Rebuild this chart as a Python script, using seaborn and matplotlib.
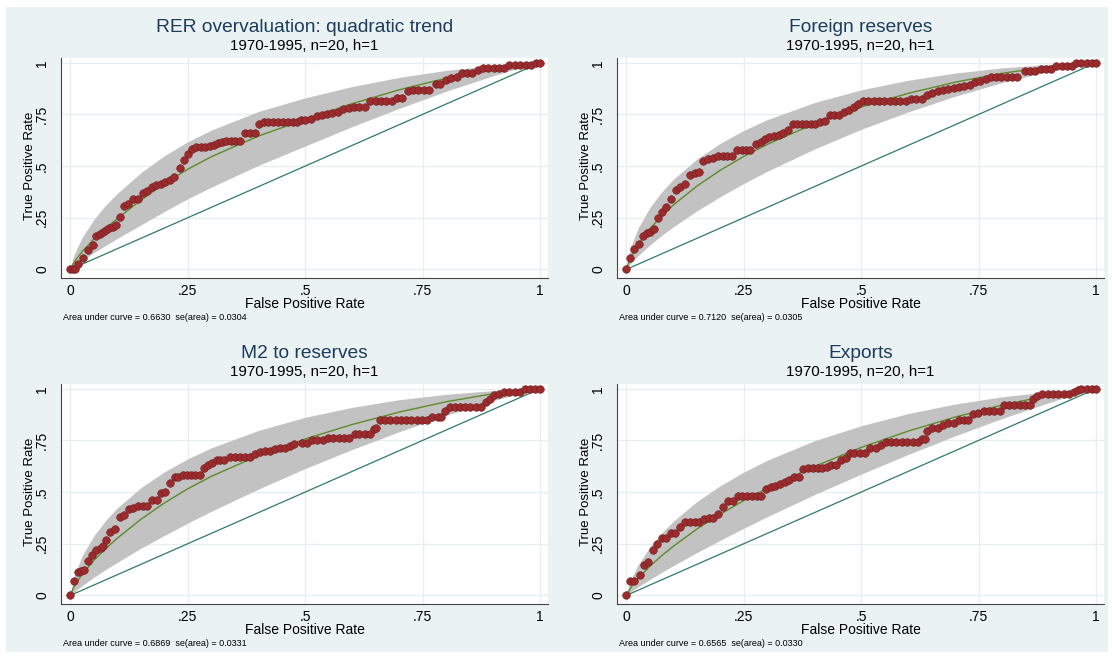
import numpy as np
import pandas as pd
import seaborn as sns
import matplotlib
matplotlib.use("Agg")
import matplotlib.pyplot as plt
from matplotlib.patches import Rectangle

# ---------------- data ----------------
titles = ["RER overvaluation: quadratic trend", "Foreign reserves", "M2 to reserves", "Exports"]
subtitle = "1970-1995, n=20, h=1"
notes = ["Area under curve = 0.6630  se(area) = 0.0304",
         "Area under curve = 0.7120  se(area) = 0.0305",
         "Area under curve = 0.6869  se(area) = 0.0331",
         "Area under curve = 0.6565  se(area) = 0.0330"]
tick_vals = [0, 0.25, 0.5, 0.75, 1]
tick_labels = ["0", ".25", ".5", ".75", "1"]
ref_line = [0, 1]

# empirical ROC points
fpr1 = [0, 0.005, 0.01, 0.017, 0.027, 0.037, 0.047, 0.054, 0.062, 0.069, 0.076, 0.083, 0.091, 0.096,
        0.105, 0.113, 0.122, 0.133, 0.144, 0.154, 0.164, 0.174, 0.183, 0.193, 0.202, 0.211, 0.22, 0.233,
        0.242, 0.25, 0.259, 0.268, 0.277, 0.286, 0.297, 0.306, 0.314, 0.323, 0.332, 0.341, 0.35, 0.36,
        0.371, 0.382, 0.392, 0.401, 0.412, 0.421, 0.431, 0.442, 0.453, 0.463, 0.474, 0.483, 0.49, 0.50,
        0.513, 0.524, 0.535, 0.547, 0.558, 0.57, 0.581, 0.593, 0.604, 0.615, 0.627, 0.638, 0.65, 0.661,
        0.673, 0.684, 0.695, 0.707, 0.718, 0.73, 0.741, 0.752, 0.764, 0.778, 0.788, 0.8, 0.811, 0.823,
        0.834, 0.845, 0.855, 0.867, 0.878, 0.89, 0.901, 0.912, 0.924, 0.935, 0.947, 0.958, 0.97, 0.981,
        0.992, 1.0]
tpr1 = [0, 0, 0, 0.026, 0.053, 0.094, 0.118, 0.161, 0.171, 0.179, 0.189, 0.198, 0.206, 0.216,
        0.252, 0.306, 0.315, 0.342, 0.342, 0.371, 0.381, 0.397, 0.408, 0.413, 0.421, 0.432, 0.448, 0.49,
        0.529, 0.556, 0.582, 0.594, 0.594, 0.594, 0.597, 0.602, 0.61, 0.616, 0.621, 0.621, 0.621, 0.623,
        0.661, 0.661, 0.661, 0.703, 0.715, 0.715, 0.715, 0.715, 0.715, 0.715, 0.715, 0.715, 0.723, 0.723,
        0.728, 0.74, 0.748, 0.752, 0.756, 0.76, 0.777, 0.781, 0.788, 0.788, 0.788, 0.817, 0.817, 0.817,
        0.817, 0.817, 0.83, 0.83, 0.862, 0.868, 0.868, 0.868, 0.868, 0.897, 0.897, 0.916, 0.924, 0.929,
        0.949, 0.949, 0.949, 0.965, 0.977, 0.977, 0.977, 0.977, 0.977, 0.99, 0.99, 0.99, 0.99, 0.99,
        1.0, 1.0]

fpr2 = [0, 0.007, 0.017, 0.027, 0.036, 0.044, 0.051, 0.059, 0.067, 0.076, 0.085, 0.095, 0.105, 0.115,
        0.125, 0.135, 0.146, 0.155, 0.164, 0.174, 0.185, 0.195, 0.205, 0.215, 0.225, 0.235, 0.245, 0.255,
        0.264, 0.275, 0.286, 0.295, 0.304, 0.314, 0.324, 0.334, 0.343, 0.355, 0.364, 0.373, 0.383, 0.392,
        0.402, 0.412, 0.422, 0.433, 0.443, 0.453, 0.463, 0.474, 0.485, 0.494, 0.504, 0.515, 0.527, 0.538,
        0.549, 0.561, 0.572, 0.583, 0.595, 0.606, 0.617, 0.629, 0.64, 0.651, 0.663, 0.674, 0.685, 0.697,
        0.708, 0.719, 0.731, 0.742, 0.753, 0.765, 0.776, 0.787, 0.798, 0.81, 0.821, 0.832, 0.848, 0.859,
        0.87, 0.882, 0.893, 0.904, 0.915, 0.927, 0.938, 0.949, 0.957, 0.968, 0.98, 0.991, 1.0]
tpr2 = [0, 0.053, 0.097, 0.123, 0.163, 0.174, 0.182, 0.194, 0.247, 0.276, 0.303, 0.34, 0.384, 0.397,
        0.411, 0.456, 0.465, 0.469, 0.524, 0.534, 0.537, 0.548, 0.548, 0.548, 0.548, 0.577, 0.577, 0.577,
        0.577, 0.605, 0.618, 0.629, 0.639, 0.645, 0.65, 0.661, 0.673, 0.703, 0.703, 0.703, 0.703, 0.703,
        0.703, 0.711, 0.716, 0.747, 0.747, 0.747, 0.763, 0.772, 0.788, 0.8, 0.813, 0.813, 0.813, 0.813,
        0.813, 0.813, 0.813, 0.813, 0.813, 0.825, 0.825, 0.825, 0.844, 0.852, 0.862, 0.868, 0.873, 0.878,
        0.884, 0.889, 0.894, 0.905, 0.913, 0.921, 0.929, 0.932, 0.932, 0.932, 0.932, 0.932, 0.958, 0.958,
        0.958, 0.969, 0.969, 0.969, 0.982, 0.982, 0.982, 0.982, 1.0, 1.0, 1.0, 1.0, 1.0]

fpr3 = [0, 0.007, 0.015, 0.022, 0.029, 0.037, 0.046, 0.055, 0.064, 0.069, 0.076, 0.085, 0.094, 0.105,
        0.114, 0.125, 0.134, 0.144, 0.154, 0.164, 0.174, 0.184, 0.193, 0.202, 0.213, 0.222, 0.23, 0.24,
        0.249, 0.257, 0.266, 0.275, 0.284, 0.293, 0.302, 0.311, 0.319, 0.328, 0.339, 0.35, 0.36, 0.371,
        0.382, 0.392, 0.403, 0.414, 0.424, 0.435, 0.446, 0.456, 0.467, 0.477,
        0.494, 0.503, 0.514, 0.526, 0.537, 0.548, 0.56, 0.571, 0.583, 0.594, 0.605, 0.615, 0.627, 0.638,
        0.646, 0.65, 0.659, 0.67, 0.681, 0.693, 0.704, 0.715, 0.726, 0.737, 0.749, 0.76, 0.771, 0.783,
        0.79, 0.798, 0.808, 0.819, 0.83, 0.84, 0.851, 0.863, 0.874, 0.884, 0.893, 0.903, 0.912, 0.924,
        0.935, 0.947, 0.958, 0.968, 0.979, 0.989, 1.0]
tpr3 = [0, 0.068, 0.114, 0.12, 0.125, 0.166, 0.195, 0.218, 0.231, 0.239, 0.266, 0.308, 0.32, 0.377,
        0.388, 0.417, 0.422, 0.433, 0.433, 0.433, 0.461, 0.461, 0.494, 0.498, 0.545, 0.575, 0.575, 0.584,
        0.584, 0.584, 0.584, 0.584, 0.617, 0.633, 0.641, 0.653, 0.656, 0.656, 0.669, 0.669, 0.669, 0.669,
        0.669, 0.682, 0.693, 0.698, 0.701, 0.709, 0.714, 0.714, 0.721, 0.734,
        0.739, 0.739, 0.75, 0.75, 0.75, 0.763, 0.763, 0.763, 0.763, 0.763, 0.779, 0.779, 0.779, 0.779,
        0.803, 0.811, 0.847, 0.847, 0.847, 0.847, 0.847, 0.847, 0.847, 0.847, 0.847, 0.847, 0.865, 0.865,
        0.865, 0.892, 0.913, 0.913, 0.913, 0.913, 0.913, 0.913, 0.913, 0.935, 0.952, 0.968, 0.973, 0.985,
        0.985, 0.985, 0.985, 1.0, 1.0, 1.0, 1.0]

fpr4 = [0, 0.007, 0.017, 0.028, 0.037, 0.046, 0.056, 0.066, 0.076, 0.085, 0.094, 0.103, 0.115, 0.125,
        0.135, 0.145, 0.155, 0.165, 0.175, 0.185, 0.195, 0.206, 0.216, 0.226, 0.237, 0.247, 0.257, 0.267,
        0.277, 0.287, 0.297, 0.307, 0.317, 0.327, 0.337, 0.347, 0.357, 0.367, 0.377, 0.387, 0.397, 0.407,
        0.417, 0.426, 0.436, 0.446, 0.456, 0.467, 0.477,
        0.485, 0.497, 0.508, 0.519, 0.531, 0.542, 0.553, 0.564, 0.575, 0.587, 0.598, 0.61, 0.621, 0.629,
        0.636, 0.64, 0.651, 0.663, 0.674, 0.685, 0.697, 0.708, 0.719, 0.728, 0.738, 0.749, 0.761, 0.772,
        0.783, 0.795, 0.804, 0.815, 0.826, 0.838, 0.849, 0.859, 0.866, 0.875, 0.885, 0.897, 0.908, 0.919,
        0.931, 0.942, 0.953, 0.961, 0.968, 0.98, 0.991, 1.0]
tpr4 = [0, 0.071, 0.068, 0.097, 0.149, 0.162, 0.219, 0.247, 0.276, 0.276, 0.304, 0.304, 0.331, 0.357,
        0.357, 0.357, 0.357, 0.369, 0.372, 0.372, 0.393, 0.429, 0.455, 0.455, 0.482, 0.482, 0.482, 0.482,
        0.482, 0.482, 0.513, 0.523, 0.531, 0.539, 0.547, 0.558, 0.575, 0.575, 0.612, 0.617, 0.617, 0.617,
        0.617, 0.62, 0.633, 0.633, 0.656, 0.666, 0.688,
        0.687, 0.687, 0.687, 0.711, 0.715, 0.727, 0.742, 0.742, 0.742, 0.742, 0.742, 0.742, 0.742, 0.755,
        0.755, 0.795, 0.811, 0.811, 0.824, 0.835, 0.835, 0.847, 0.847, 0.847, 0.876, 0.884, 0.892, 0.892,
        0.892, 0.892, 0.919, 0.919, 0.919, 0.919, 0.919, 0.919, 0.952, 0.965, 0.973, 0.973, 0.973, 0.973,
        0.973, 0.973, 0.985, 0.992, 1.0, 1.0, 1.0, 1.0]

# fitted binormal curves and confidence bands
curve_fpr = [0, 0.005, 0.01, 0.025, 0.05, 0.075, 0.1, 0.15, 0.2, 0.25, 0.3, 0.4, 0.5, 0.6, 0.7,
             0.8, 0.9, 0.95, 1]
fit1 = [0, 0.024, 0.042, 0.086, 0.147, 0.199, 0.246, 0.335, 0.415, 0.485, 0.545, 0.645, 0.726, 0.802,
        0.869, 0.925, 0.970, 0.988, 1]
lo1 = [0, 0.010, 0.019, 0.043, 0.081, 0.116, 0.150, 0.215, 0.280, 0.342, 0.398, 0.503, 0.597, 0.691,
       0.779, 0.862, 0.937, 0.971, 1]
hi1 = [0, 0.052, 0.084, 0.155, 0.242, 0.311, 0.368, 0.468, 0.550, 0.618, 0.674, 0.764, 0.830, 0.885,
       0.929, 0.963, 0.987, 0.995, 1]
fit2 = [0, 0.037, 0.062, 0.121, 0.197, 0.258, 0.312, 0.403, 0.480, 0.547, 0.605, 0.705, 0.786, 0.852,
        0.906, 0.949, 0.981, 0.993, 1]
lo2 = [0, 0.017, 0.031, 0.067, 0.118, 0.164, 0.206, 0.283, 0.352, 0.416, 0.475, 0.582, 0.678, 0.762,
       0.838, 0.904, 0.959, 0.982, 1]
hi2 = [0, 0.073, 0.114, 0.201, 0.300, 0.375, 0.436, 0.534, 0.610, 0.673, 0.725, 0.807, 0.869, 0.915,
       0.950, 0.975, 0.992, 0.997, 1]
fit3 = [0, 0.030, 0.051, 0.102, 0.170, 0.226, 0.277, 0.368, 0.447, 0.516, 0.576, 0.676, 0.757, 0.827,
        0.887, 0.937, 0.976, 0.990, 1]
lo3 = [0, 0.011, 0.021, 0.047, 0.088, 0.125, 0.160, 0.228, 0.290, 0.350, 0.407, 0.514, 0.614, 0.706,
       0.792, 0.871, 0.942, 0.973, 1]
hi3 = [0, 0.069, 0.108, 0.192, 0.289, 0.363, 0.424, 0.521, 0.598, 0.661, 0.714, 0.798, 0.862, 0.910,
       0.947, 0.973, 0.991, 0.997, 1]
fit4 = [0, 0.022, 0.040, 0.082, 0.141, 0.192, 0.238, 0.321, 0.393, 0.459, 0.518, 0.624, 0.716, 0.795,
        0.863, 0.921, 0.968, 0.987, 1]
lo4 = [0, 0.009, 0.018, 0.041, 0.077, 0.111, 0.144, 0.207, 0.267, 0.325, 0.381, 0.487, 0.587, 0.682,
       0.772, 0.856, 0.933, 0.969, 1]
hi4 = [0, 0.049, 0.080, 0.149, 0.234, 0.302, 0.359, 0.454, 0.531, 0.597, 0.654, 0.748, 0.821, 0.880,
       0.926, 0.961, 0.986, 0.995, 1]

panels = [
    (titles[0], notes[0], fpr1, tpr1, fit1, lo1, hi1),
    (titles[1], notes[1], fpr2, tpr2, fit2, lo2, hi2),
    (titles[2], notes[2], fpr3, tpr3, fit3, lo3, hi3),
    (titles[3], notes[3], fpr4, tpr4, fit4, lo4, hi4),
]

# ---------------- style ----------------
sns.set_theme(style="white")
plt.rcParams["font.family"] = ["Liberation Sans", "DejaVu Sans"]

W, H = 1112, 656
fig = plt.figure(figsize=(W / 100, H / 100), dpi=100, facecolor="white")
fig.patches.append(Rectangle((6 / W, 1 - 652 / H), (1108 - 6) / W, (652 - 7) / H,
                             transform=fig.transFigure, facecolor="#EAF2F3",
                             edgecolor="none", zorder=-10))

# axes boxes in pixels: (left, top)
boxes = [(61, 58), (617, 58), (61, 384), (617, 384)]
AW, AH = 487, 220

title_col = "#1E3B5C"
band_col = "#C2C2C2"
fit_col = "#5E8A2A"
diag_col = "#2F7D60"
pt_col = "#9C2B2E"
pt_edge = "#6E1C1F"

for (left, top), (title, note, fpr, tpr, fit, lo, hi) in zip(boxes, panels):
    ax = fig.add_axes([left / W, 1 - (top + AH) / H, AW / W, AH / H])
    ax.set_zorder(1)
    ax.set_facecolor("white")
    ax.set_xlim(-0.0202, 1.017)
    ax.set_ylim(-0.042, 1.023)

    ax.fill_between(curve_fpr, lo, hi, color=band_col, lw=0, zorder=1)
    sns.lineplot(x=ref_line, y=ref_line, ax=ax, color=diag_col, lw=0.9,
                 estimator=None, sort=False, zorder=2)
    sns.lineplot(x=curve_fpr, y=fit, ax=ax, color=fit_col, lw=1.0,
                 estimator=None, sort=False, zorder=3)
    sns.scatterplot(x=fpr, y=tpr, ax=ax, color=pt_col, edgecolor=pt_edge,
                    linewidth=0.4, s=30, zorder=4, legend=False)

    ax.set_xticks(tick_vals)
    ax.set_xticklabels(tick_labels)
    ax.set_yticks(tick_vals)
    ax.set_yticklabels(tick_labels, rotation=90, va="center")
    ax.tick_params(axis="both", direction="out", length=3.5, width=0.8, color="#333333",
                   labelsize=10, labelcolor="black")
    ax.tick_params(axis="x", pad=0.5)
    ax.tick_params(axis="y", pad=5)
    ax.grid(True, color="#E6EEF0", lw=1.0, zorder=0)
    ax.set_axisbelow(True)
    for sp in ["top", "right"]:
        ax.spines[sp].set_visible(False)
    for sp in ["left", "bottom"]:
        ax.spines[sp].set_color("#444444")
        ax.spines[sp].set_linewidth(0.8)
    ax.set_xlabel("")
    ax.set_ylabel("")

    ax.text(0.5, 1 + 30 / AH, title, transform=ax.transAxes, ha="center", va="center",
            fontsize=13.8, color=title_col)
    ax.text(0.5, 1 + 12 / AH, subtitle, transform=ax.transAxes, ha="center", va="center",
            fontsize=10.8, color="black")
    ax.text(0.5, -26 / AH, "False Positive Rate", transform=ax.transAxes, ha="center",
            va="center", fontsize=10, color="black")
    ax.text(-31 / AW, (278 - 166) / AH, "True Positive Rate", transform=ax.transAxes,
            ha="center", va="center", rotation=90, fontsize=9.5, color="black")
    ax.text(2 / AW, -40 / AH, note, transform=ax.transAxes, ha="left", va="center",
            fontsize=6.5, color="black")

fig.savefig("out.png", dpi=100, facecolor=fig.get_facecolor())
